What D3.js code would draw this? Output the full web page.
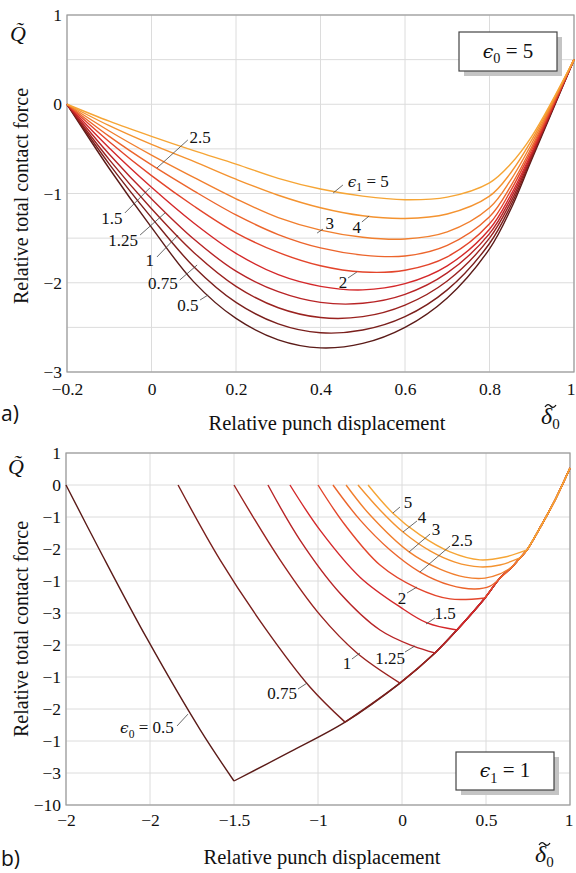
<!DOCTYPE html>
<html><head><meta charset="utf-8">
<script src="https://cdn.jsdelivr.net/npm/d3@7"></script>
<style>body{margin:0;background:#fff}svg{display:block}</style>
</head><body>
<svg id="c" width="576" height="873"></svg>
<script>
// ---------- DATA ----------
const eps = [0.5, 0.75, 1, 1.25, 1.5, 2, 2.5, 3, 4, 5];
// (a) eps0 = 5, curves for eps1
const topX = [-0.2, -0.1, 0, 0.1, 0.2, 0.3, 0.4, 0.5, 0.6, 0.7, 0.8, 0.85, 0.9, 1];
const topQ_050 = [0, -0.72, -1.38, -1.99, -2.40, -2.64, -2.73, -2.68, -2.50, -2.17, -1.62, -1.18, -0.62, 0.5];
const topQ_075 = [0, -0.67, -1.27, -1.82, -2.22, -2.46, -2.56, -2.53, -2.38, -2.08, -1.56, -1.14, -0.60, 0.5];
const topQ_100 = [0, -0.62, -1.17, -1.66, -2.04, -2.28, -2.39, -2.38, -2.25, -1.98, -1.50, -1.10, -0.58, 0.5];
const topQ_125 = [0, -0.56, -1.06, -1.51, -1.87, -2.10, -2.22, -2.23, -2.13, -1.89, -1.45, -1.06, -0.56, 0.5];
const topQ_150 = [0, -0.49, -0.93, -1.33, -1.67, -1.91, -2.04, -2.08, -2.01, -1.81, -1.40, -1.02, -0.54, 0.5];
const topQ_200 = [0, -0.42, -0.80, -1.14, -1.44, -1.66, -1.81, -1.88, -1.86, -1.71, -1.34, -0.97, -0.51, 0.5];
const topQ_250 = [0, -0.36, -0.68, -0.97, -1.24, -1.46, -1.61, -1.69, -1.70, -1.58, -1.26, -0.92, -0.48, 0.5];
const topQ_300 = [0, -0.30, -0.57, -0.82, -1.06, -1.27, -1.41, -1.49, -1.51, -1.43, -1.16, -0.85, -0.44, 0.5];
const topQ_400 = [0, -0.24, -0.45, -0.64, -0.84, -1.02, -1.16, -1.25, -1.28, -1.23, -1.03, -0.77, -0.40, 0.5];
const topQ_500 = [0, -0.19, -0.36, -0.52, -0.67, -0.83, -0.95, -1.03, -1.07, -1.04, -0.88, -0.67, -0.36, 0.5];
const topSeries = [topQ_050, topQ_075, topQ_100, topQ_125, topQ_150, topQ_200, topQ_250, topQ_300, topQ_400, topQ_500];

// (b) eps1 = 1, curves for eps0 : [delta, Q] points up to the envelope
const bot_050 = [[-2, 0], [-1.80, -2.03], [-1.52, -4.78], [-1.20, -7.66], [-1.0, -9.25]];
const bot_075 = [[-1.333, 0], [-1.083, -2.34], [-0.815, -4.47], [-0.548, -6.31], [-0.339, -7.41]];
const bot_100 = [[-1.0, 0], [-0.726, -2.34], [-0.488, -4.06], [-0.268, -5.25], [-0.012, -6.19]];
const bot_125 = [[-0.798, 0], [-0.607, -1.72], [-0.369, -3.38], [-0.131, -4.53], [0.065, -5.03], [0.196, -5.25]];
const bot_150 = [[-0.667, 0], [-0.488, -1.41], [-0.25, -2.88], [-0.012, -3.81], [0.149, -4.31], [0.327, -4.53]];
const bot_200 = [[-0.5, 0], [-0.339, -1.25], [-0.131, -2.5], [0.089, -3.22], [0.286, -3.56], [0.494, -3.53]];
const bot_250 = [[-0.411, 0], [-0.25, -1.09], [-0.071, -2.03], [0.107, -2.72], [0.286, -3.13], [0.435, -3.25], [0.524, -3.16], [0.583, -2.91]];
const bot_300 = [[-0.333, 0], [-0.19, -0.94], [0.042, -2.09], [0.226, -2.63], [0.375, -2.88], [0.494, -2.91], [0.583, -2.78], [0.655, -2.56]];
const bot_400 = [[-0.262, 0], [-0.131, -0.78], [0.006, -1.47], [0.167, -2.06], [0.315, -2.41], [0.464, -2.56], [0.583, -2.5], [0.702, -2.28]];
const bot_500 = [[-0.202, 0], [-0.054, -0.88], [0.107, -1.56], [0.286, -2.09], [0.464, -2.34], [0.613, -2.25], [0.744, -2.03]];
const botSeries = [bot_050, bot_075, bot_100, bot_125, bot_150, bot_200, bot_250, bot_300, bot_400, bot_500];
// common envelope on which the curves end
const envelope = [[-1.0, -9.25], [-0.667, -8.34], [-0.339, -7.41], [-0.012, -6.19], [0.196, -5.25], [0.327, -4.53],
  [0.494, -3.53], [0.583, -2.91], [0.655, -2.56], [0.702, -2.28], [0.744, -2.03], [0.821, -1.34], [0.911, -0.47], [1.0, 0.53]];

// ticks
const topXTicks = [-0.2, 0, 0.2, 0.4, 0.6, 0.8, 1];
const topYTicks = [-3, -2, -1, 0, 1];
const botXTicks = [-2, -1.5, -1, -0.5, 0, 0.5, 1];
const botXTickLabels = ["−2", "−2", "−1.5", "−1", "0", "0.5", "1"];
const botYTicks = [1, 0, -1, -2, -3, -4, -5, -6, -7, -8, -9, -10];
const botYTickLabels = ["1", "0", "−1", "−2", "−1", "−3", "−2", "−1", "−2", "−1", "−3", "−10"];

// curve labels (label position and leader line, data units)
const topLabels = [
  {t: "2.5", lx: 0.115, ly: -0.367, x1: 0.086, y1: -0.40, x2: 0.013, y2: -0.714},
  {t: "1.5", lx: -0.094, ly: -1.275, x1: -0.063, y1: -1.218, x2: -0.004, y2: -0.938},
  {t: "1.25", lx: -0.067, ly: -1.521, x1: -0.027, y1: -1.465, x2: 0.032, y2: -1.218},
  {t: "1", lx: -0.004, ly: -1.745, x1: 0.013, y1: -1.711, x2: 0.063, y2: -1.465},
  {t: "0.75", lx: 0.027, ly: -2.003, x1: 0.067, y1: -1.969, x2: 0.108, y2: -1.801},
  {t: "0.5", lx: 0.086, ly: -2.249, x1: 0.115, y1: -2.193, x2: 0.134, y2: -2.137},
  {t: "3", lx: 0.422, ly: -1.331, x1: 0.406, y1: -1.398, x2: 0.392, y2: -1.443},
  {t: "4", lx: 0.486, ly: -1.375, x1: 0.498, y1: -1.319, x2: 0.515, y2: -1.252},
  {t: "2", lx: 0.453, ly: -1.992, x1: 0.465, y1: -1.947, x2: 0.486, y2: -1.880},
  {t: "E1=5", lx: 0.513, ly: -0.860, x1: 0.453, y1: -0.905, x2: 0.430, y2: -0.994}
];
const botLabels = [
  {t: "E0=0.5", lx: -1.518, ly: -7.59, x1: -1.339, y1: -7.53, x2: -1.274, y2: -7.16},
  {t: "0.75", lx: -0.714, ly: -6.5, x1: -0.619, y1: -6.375, x2: -0.565, y2: -6.188},
  {t: "1", lx: -0.327, ly: -5.563, x1: -0.298, y1: -5.438, x2: -0.25, y2: -5.25},
  {t: "1.25", lx: -0.071, ly: -5.406, x1: 0.018, y1: -5.219, x2: 0.077, y2: -5.031},
  {t: "1.5", lx: 0.256, ly: -4.0, x1: 0.196, y1: -4.156, x2: 0.143, y2: -4.344},
  {t: "2", lx: 0.0, ly: -3.531, x1: 0.030, y1: -3.375, x2: 0.089, y2: -3.188},
  {t: "2.5", lx: 0.357, ly: -1.719, x1: 0.286, y1: -1.906, x2: 0.107, y2: -2.719},
  {t: "3", lx: 0.202, ly: -1.375, x1: 0.167, y1: -1.531, x2: 0.042, y2: -2.094},
  {t: "4", lx: 0.119, ly: -1.0, x1: 0.089, y1: -1.125, x2: 0.006, y2: -1.469},
  {t: "5", lx: 0.036, ly: -0.531, x1: -0.012, y1: -0.688, x2: -0.054, y2: -0.875}
];

// ---------- STYLE ----------
const palette = ["#5b1b18", "#7a1f1c", "#9a221f", "#b82426", "#d4282a", "#e3452b", "#ec652c", "#f17f2e", "#f49330", "#f6a535"];
const SERIF = "'Liberation Serif', 'Times New Roman', serif";
const svg = d3.select("#c");
const minus = v => (v < 0 ? "−" + Math.abs(v) : String(v));

function epsText(g, x, y, sub, rest, fs, anchor) {
  const t = g.append("text").attr("x", x).attr("y", y).attr("text-anchor", anchor)
    .attr("font-family", SERIF).attr("font-size", fs).attr("fill", "#111");
  t.append("tspan").attr("font-family", "'DejaVu Serif', serif").attr("font-style", "italic")
    .attr("font-size", fs * 0.9).text("ϵ");
  t.append("tspan").attr("font-size", fs * 0.68).attr("dy", fs * 0.28).text(sub);
  t.append("tspan").attr("dy", -fs * 0.28).text(" = " + rest);
  return t;
}

function panel(opts) {
  const {x, y, xTicks, xLabels, yTicks, yLabels, yGrid, pad, lastDx} = opts;
  const g = svg.append("g");
  const [x0, x1] = x.range(), [y0, y1] = y.range();
  g.append("g").selectAll("line").data(xTicks).join("line")
    .attr("x1", d => x(d)).attr("x2", d => x(d)).attr("y1", y1).attr("y2", y0)
    .attr("stroke", "#dcdcdc").attr("stroke-width", 1);
  g.append("g").selectAll("line").data(yGrid).join("line")
    .attr("y1", d => y(d)).attr("y2", d => y(d)).attr("x1", x0).attr("x2", x1)
    .attr("stroke", "#dcdcdc").attr("stroke-width", 1);
  const ax = g.append("g").attr("transform", `translate(0,${y0})`)
    .call(d3.axisBottom(x).tickValues(xTicks).tickSize(0).tickPadding(pad)
      .tickFormat((d, i) => xLabels[i]));
  const ay = g.append("g").attr("transform", `translate(${x0},0)`)
    .call(d3.axisLeft(y).tickValues(yTicks).tickSize(0).tickPadding(5)
      .tickFormat((d, i) => yLabels[i]));
  [ax, ay].forEach(a => {
    a.select(".domain").remove();
    a.selectAll("text").attr("font-family", SERIF).attr("font-size", 17.5).attr("fill", "#111");
  });
  // keep the last x label inside the page
  ax.selectAll(".tick:last-of-type text").attr("text-anchor", "end").attr("dx", lastDx);
  g.append("rect").attr("x", x0).attr("y", y1).attr("width", x1 - x0).attr("height", y0 - y1)
    .attr("fill", "none").attr("stroke", "#9a9a9a").attr("stroke-width", 1.2);
  return g;
}

function drawLabels(g, labels, x, y) {
  labels.forEach(l => {
    g.append("line").attr("x1", x(l.x1)).attr("y1", y(l.y1)).attr("x2", x(l.x2)).attr("y2", y(l.y2))
      .attr("stroke", "#444").attr("stroke-width", 0.8);
    if (l.t.startsWith("E")) {
      epsText(g, x(l.lx), y(l.ly) + 5.5, l.t[1], l.t.slice(3), 17, "middle");
    } else {
      g.append("text").attr("x", x(l.lx)).attr("y", y(l.ly) + 6).attr("text-anchor", "middle")
        .attr("font-family", SERIF).attr("font-size", 17).attr("fill", "#111").text(l.t);
    }
  });
}

function legendBox(x, y, w, h, sub, val) {
  svg.append("rect").attr("x", x + 5).attr("y", y + 5).attr("width", w).attr("height", h).attr("fill", "#c4c4c4");
  svg.append("rect").attr("x", x).attr("y", y).attr("width", w).attr("height", h)
    .attr("fill", "#fff").attr("stroke", "#444").attr("stroke-width", 1.2);
  epsText(svg, x + w / 2, y + h / 2 + 6, sub, val, 21, "middle");
}
function qLabel(x, y) {
  svg.append("text").attr("x", x).attr("y", y).attr("font-family", SERIF).attr("font-style", "italic")
    .attr("font-size", 22).attr("fill", "#111").text("Q\u0303");
}
function dLabel(x, y) {
  const t = svg.append("text").attr("x", x).attr("y", y).attr("font-family", SERIF)
    .attr("font-size", 24).attr("fill", "#111");
  t.append("tspan").attr("font-style", "italic").text("δ");
  t.append("tspan").attr("dx", 0).attr("dy", 5).attr("font-size", 15).text("0");
  // tilde accent drawn as a small stroke over the delta
  const tx = x + 4, ty = y - 19;
  svg.append("path")
    .attr("d", `M${tx},${ty + 2} C${tx + 2},${ty - 1} ${tx + 4},${ty - 1} ${tx + 5.5},${ty + 1} S${tx + 9},${ty + 3} ${tx + 11},${ty}`)
    .attr("fill", "none").attr("stroke", "#111").attr("stroke-width", 1.3);
}
function yTitle(cx, cy) {
  svg.append("text").attr("transform", `translate(${cx},${cy}) rotate(-90)`).attr("text-anchor", "middle")
    .attr("font-family", SERIF).attr("font-size", 20).attr("fill", "#111").text("Relative total contact force");
}
function xTitle(cx, cy) {
  svg.append("text").attr("x", cx).attr("y", cy).attr("text-anchor", "middle")
    .attr("font-family", SERIF).attr("font-size", 20.5).attr("fill", "#111").text("Relative punch displacement");
}
function panelTag(x, y, t) {
  svg.append("text").attr("x", x).attr("y", y).attr("font-family", "'Open Sans', 'Liberation Sans', sans-serif")
    .attr("font-size", 21).attr("fill", "#111").text(t);
}

// ---------- PANEL (a) ----------
const xT = d3.scaleLinear([-0.2, 1], [67, 574]);
const yT = d3.scaleLinear([-3, 1], [372, 15]);
panel({x: xT, y: yT, xTicks: topXTicks, xLabels: topXTicks.map(minus),
  yTicks: topYTicks, yLabels: topYTicks.map(minus), yGrid: d3.range(-3, 1.01, 0.5), pad: 11, lastDx: 1});

const lineT = d3.line().x(d => xT(d[0])).y(d => yT(d[1])).curve(d3.curveCatmullRom.alpha(0.5));
const gT = svg.append("g");
topSeries.forEach((s, i) => {
  gT.append("path").attr("d", lineT(topX.map((xv, j) => [xv, s[j]])))
    .attr("fill", "none").attr("stroke", palette[i]).attr("stroke-width", 1.4);
});
drawLabels(gT, topLabels, xT, yT);
legendBox(459, 32, 98, 39, "0", "5");
qLabel(10, 41);
yTitle(28, 196);
xTitle(327, 430);
dLabel(541, 424);
panelTag(1, 421, "a)");

// ---------- PANEL (b) ----------
const xB = d3.scaleLinear([-2, 1], [66, 570]);
const yB = d3.scaleLinear([-10, 1], [805, 453]);
panel({x: xB, y: yB, xTicks: botXTicks, xLabels: botXTickLabels,
  yTicks: botYTicks, yLabels: botYTickLabels, yGrid: botYTicks, pad: 9, lastDx: 3});

const lineB = d3.line().x(d => xB(d[0])).y(d => yB(d[1])).curve(d3.curveCatmullRom.alpha(0.5));
const gB = svg.append("g");
botSeries.forEach((s, i) => {
  const last = s[s.length - 1];
  const j = envelope.findIndex(p => p[0] === last[0]);
  gB.append("path").attr("d", lineB(s)).attr("fill", "none").attr("stroke", palette[i]).attr("stroke-width", 1.4);
  gB.append("path").attr("d", lineB(envelope.slice(Math.max(j, 0))))
    .attr("fill", "none").attr("stroke", palette[i]).attr("stroke-width", 1.4);
});
drawLabels(gB, botLabels, xB, yB);
legendBox(456, 752, 98, 38, "1", "1");
qLabel(8, 474);
yTitle(28, 629);
xTitle(322, 864);
dLabel(535, 862);
panelTag(1, 866, "b)");
</script>
</body></html>
